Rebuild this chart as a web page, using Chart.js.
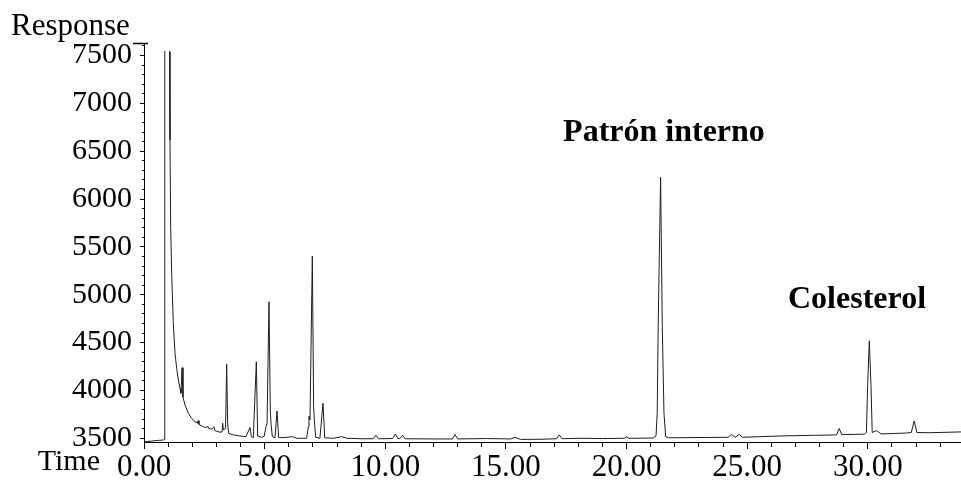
<!DOCTYPE html>
<html>
<head>
<meta charset="utf-8">
<script src="https://cdn.jsdelivr.net/npm/chart.js@4/dist/chart.umd.min.js"></script>
<style>
  html, body { margin: 0; padding: 0; background: #fff; }
  canvas { display: block; }
</style>
</head>
<body>
<canvas id="chrom" width="961" height="484"></canvas>
<script>
// Retention time (min) of each sampled point of the chromatogram trace
const times = [
  0.00, 0.30, 0.60, 0.82, 0.84, 0.86, 1.03, 1.057, 1.077, 1.105,
  1.148, 1.174, 1.216, 1.285, 1.355, 1.423, 1.492, 1.533, 1.575, 1.616,
  1.699, 1.837, 1.975, 2.114, 2.21, 2.238, 2.279, 2.459, 2.597, 2.639,
  2.68, 2.805, 2.901, 2.942, 3.15, 3.232, 3.26, 3.29, 3.38, 3.426,
  3.467, 3.509, 3.70, 3.978, 4.227, 4.393, 4.447, 4.53, 4.656, 4.71,
  4.877, 4.98, 5.056, 5.10, 5.18, 5.236, 5.264, 5.318, 5.429, 5.512,
  5.58, 5.774, 6.16, 6.327, 6.74, 6.81, 6.838, 6.88, 6.976, 7.03,
  7.06, 7.115, 7.29, 7.418, 7.49, 7.85, 8.19, 8.40, 9.0, 9.50,
  9.61, 9.72, 10.30, 10.42, 10.52, 10.62, 10.72, 10.82, 12.0, 12.78,
  12.89, 13.0, 14.2, 15.2, 15.38, 15.6, 16.5, 17.1, 17.21, 17.32,
  18.07, 19.0, 19.9, 20.0, 20.1, 21.10, 21.22, 21.27, 21.31, 21.41,
  21.48, 21.55, 21.62, 21.75, 23.0, 24.2, 24.35, 24.5, 24.67, 24.8,
  26.36, 27.74, 28.7, 28.81, 28.92, 29.85, 29.94, 29.99, 30.06, 30.13,
  30.18, 30.36, 30.55, 31.61, 31.80, 31.92, 32.03, 32.57, 33.82, 33.86
];

// Detector response at each of those times (solvent front runs off scale)
const responses = [
  3462, 3470, 3478, 3482, 3490, 9000, 9000, 7540, 6617, 5711,
  5224, 5015, 4702, 4388, 4231, 4109, 4022, 3970, 4238, 3928,
  3848, 3761, 3709, 3674, 3657, 3684, 3646, 3621, 3611, 3629,
  3604, 3594, 3621, 3580, 3563, 3566, 3657, 3587, 3600, 4273,
  3657, 3552, 3535, 3524, 3517, 3613, 3517, 3506, 4300, 3524,
  3510, 3520, 3621, 3650, 4927, 3780, 3657, 3517, 3506, 3785,
  3510, 3506, 3517, 3500, 3500, 3621, 3733, 3691, 5405, 3830,
  3691, 3510, 3500, 3866, 3505, 3500, 3517, 3500, 3495, 3495,
  3531, 3495, 3497, 3545, 3497, 3500, 3531, 3495, 3493, 3493,
  3540, 3493, 3497, 3493, 3510, 3488, 3490, 3495, 3535, 3495,
  3500, 3497, 3500, 3514, 3500, 3502, 3525, 3761, 4666, 6227,
  4666, 3761, 3517, 3505, 3508, 3510, 3540, 3510, 3540, 3510,
  3524, 3531, 3535, 3603, 3538, 3543, 3560, 4050, 4517, 4050,
  3560, 3580, 3545, 3555, 3560, 3681, 3560, 3558, 3566, 3566
];

// Axis ranges and tick spacing
const timeRange = [0, 33.86];
const responseRange = [3461, 7620];
const timeStep = 1;          // minor tick every minute
const timeLabelEvery = 5;    // labelled tick every 5 min
const responseStep = 100;    // minor tick every 100 counts
const responseLabelEvery = 500;

// Peak names and the point each name is centred on
const peakNames = ['Patrón interno', 'Colesterol'];
const peakNameTimes = [21.55, 29.55];
const peakNameResponses = [6690, 4945];

const yAxisName = 'Response';
const xAxisName = 'Time';

const SERIF = '"Liberation Serif", "Times New Roman", serif';

const isMultiple = (v, step) => Math.abs(v / step - Math.round(v / step)) < 1e-6;

const chromTexts = {
  id: 'chromTexts',
  afterDraw(chart) {
    const { ctx, chartArea, scales } = chart;
    const x = scales.x, y = scales.y;
    ctx.save();
    ctx.fillStyle = '#000';

    // peak names
    ctx.font = 'bold 32px ' + SERIF;
    ctx.textAlign = 'center';
    ctx.textBaseline = 'middle';
    peakNames.forEach((name, i) => {
      ctx.fillText(name, x.getPixelForValue(peakNameTimes[i]), y.getPixelForValue(peakNameResponses[i]));
    });

    // axis names
    ctx.font = '31px ' + SERIF;
    ctx.textAlign = 'left';
    ctx.textBaseline = 'alphabetic';
    ctx.fillText(yAxisName, 11, chartArea.top - 9);
    ctx.font = '30px ' + SERIF;
    ctx.textAlign = 'right';
    ctx.fillText(xAxisName, chartArea.left - 44, 470);

    // short rule that closes the response axis at the top
    ctx.strokeStyle = '#000';
    ctx.lineWidth = 1.5;
    ctx.beginPath();
    ctx.moveTo(chartArea.left - 11, chartArea.top - 0.5);
    ctx.lineTo(chartArea.left + 4, chartArea.top - 0.5);
    ctx.stroke();
    ctx.restore();
  }
};

new Chart(document.getElementById('chrom'), {
  type: 'line',
  data: {
    datasets: [{
      data: times.map((t, i) => ({ x: t, y: responses[i] })),
      borderColor: '#1e1e1e',
      borderWidth: 1,
      pointRadius: 0,
      tension: 0,
      fill: false,
      clip: { left: 0, top: -7, right: 0, bottom: 0 }
    }]
  },
  options: {
    responsive: false,
    animation: false,
    devicePixelRatio: 1,
    events: [],
    layout: { padding: { top: 44, left: 0, right: 0, bottom: 0 } },
    plugins: {
      legend: { display: false },
      tooltip: { enabled: false },
      title: { display: false }
    },
    scales: {
      x: {
        type: 'linear',
        position: 'bottom',
        min: timeRange[0],
        max: timeRange[1],
        afterFit(scale) { scale.height = 42; },
        border: { display: true, color: '#000', width: 1 },
        grid: {
          display: true,
          drawOnChartArea: false,
          drawTicks: true,
          tickLength: 7,
          tickColor: '#000',
          tickWidth: 1,
          tickBorderDash: (c) => (c.tick && isMultiple(c.tick.value, timeLabelEvery)) ? [] : [4, 100]
        },
        ticks: {
          stepSize: timeStep,
          includeBounds: false,
          autoSkip: false,
          maxRotation: 0,
          minRotation: 0,
          padding: 3,
          color: '#000',
          font: { family: SERIF, size: 31, lineHeight: 1 },
          callback: (v) => isMultiple(v, timeLabelEvery) ? Number(v).toFixed(2) : ''
        }
      },
      y: {
        type: 'linear',
        position: 'left',
        min: responseRange[0],
        max: responseRange[1],
        afterFit(scale) { scale.width = 144; },
        border: { display: true, color: '#000', width: 1 },
        grid: {
          display: true,
          drawOnChartArea: false,
          drawTicks: true,
          tickLength: 4,
          tickColor: '#000',
          tickWidth: 1,
          tickBorderDash: (c) => (c.tick && isMultiple(c.tick.value, responseLabelEvery)) ? [] : [0, 2, 2, 100]
        },
        ticks: {
          stepSize: responseStep,
          includeBounds: false,
          autoSkip: false,
          padding: 8,
          color: '#000',
          font: { family: SERIF, size: 30, lineHeight: 1 },
          callback: (v) => isMultiple(v, responseLabelEvery) ? String(v) : ''
        }
      }
    }
  },
  plugins: [chromTexts]
});
</script>
</body>
</html>
